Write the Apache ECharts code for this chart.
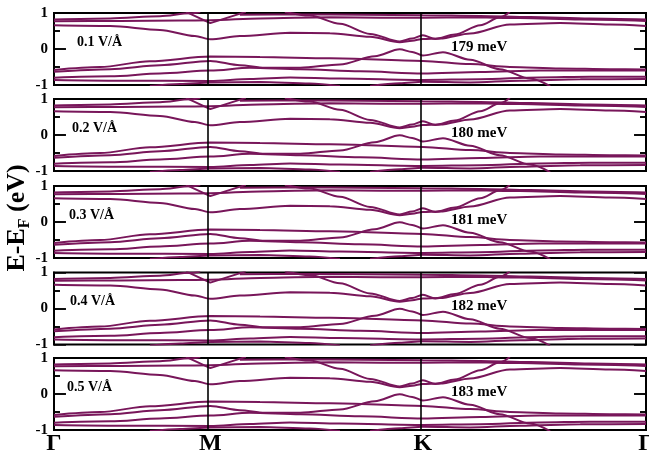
<!DOCTYPE html>
<html><head><meta charset="utf-8">
<script src="https://cdn.jsdelivr.net/npm/echarts@6/dist/echarts.min.js"></script>
<style>html,body{margin:0;padding:0;background:#fff}#c{width:649px;height:450px}</style>
</head><body><div id="c"></div>
<script>
// k-path positions (normalised) and labels
const kTicks = [0, 0.264, 0.623, 1];
const kLabels = ['Γ', 'M', 'K', 'Γ'];
const yMajorTicks = [0];
const yMinorTicks = [-0.5, 0.5];
const fieldLabels = ['0.1 V/Å', '0.2 V/Å', '0.3 V/Å', '0.4 V/Å', '0.5 V/Å'];
const gapLabels = ['179 meV', '180 meV', '181 meV', '182 meV', '183 meV'];

// conduction bands [k, E-EF (eV)]
const cbA = [[0,0.82],[0.095,0.85],[0.179,0.91],[0.230,0.99],[0.247,1.03]];
const cbV = [[0.223,1.03],[0.264,0.72],[0.324,1.03]];
const cbB = [[0,0.77],[0.111,0.78],[0.213,0.79],[0.264,0.80],[0.348,0.85],[0.466,0.88],[0.551,0.87],[0.623,0.87],[0.703,0.88],[0.787,0.86],[0.889,0.82],[1,0.78]];
const cbTop = [[0.314,0.95],[0.416,0.96],[0.517,0.95],[0.623,0.94],[0.720,0.92],[0.804,0.89],[0.905,0.85],[1,0.82]];
const cbC = [[0,0.66],[0.095,0.64],[0.179,0.53],[0.238,0.36],[0.264,0.27],[0.314,0.36],[0.399,0.45],[0.466,0.44],[0.534,0.34],[0.584,0.19],[0.605,0.23],[0.623,0.28],[0.652,0.29],[0.703,0.43],[0.770,0.68],[0.855,0.72],[0.939,0.68],[1,0.64]];
const cbD = [[0.390,1.03],[0.432,0.93],[0.483,0.70],[0.534,0.42],[0.584,0.21],[0.605,0.29],[0.623,0.38],[0.644,0.28],[0.677,0.40],[0.720,0.66],[0.753,0.88],[0.770,1.03]];
// valence bands
const vbA = [[0,-0.58],[0.078,-0.50],[0.162,-0.34],[0.264,-0.21],[0.348,-0.22],[0.466,-0.26],[0.623,-0.33],[0.703,-0.42],[0.770,-0.50],[0.855,-0.54],[0.939,-0.56],[1,-0.57]];
const vbB = [[0,-0.63],[0.095,-0.56],[0.179,-0.45],[0.264,-0.33],[0.314,-0.45],[0.356,-0.52],[0.416,-0.52],[0.483,-0.43],[0.542,-0.20],[0.584,-0.01],[0.605,-0.08],[0.623,-0.18],[0.657,-0.09],[0.703,-0.30],[0.753,-0.56],[0.804,-0.82],[0.838,-1.03]];
const vbC = [[0,-0.80],[0.095,-0.76],[0.179,-0.68],[0.264,-0.60],[0.331,-0.52],[0.416,-0.56],[0.517,-0.62],[0.623,-0.68],[0.720,-0.64],[0.820,-0.60],[1,-0.60]];
const vbD = [[0,-0.86],[0.111,-0.88],[0.264,-0.89],[0.331,-0.83],[0.399,-0.79],[0.483,-0.82],[0.623,-0.86],[0.720,-0.84],[0.820,-0.79],[0.905,-0.77],[1,-0.77]];
const vbE = [[0.162,-1.03],[0.213,-0.97],[0.264,-0.93],[0.348,-0.92],[0.432,-0.96],[0.483,-1.03]];
const vbF = [[0.534,-1.03],[0.584,-0.95],[0.623,-0.91],[0.703,-0.93],[0.787,-0.88],[0.889,-0.84],[1,-0.83]];

const bands = [cbA, cbB, cbTop, cbC, cbD, vbA, vbB, vbC, vbD, vbE, vbF];

const FONT = '"Liberation Serif", "DejaVu Serif", serif';
const COLOR = '#78165a';
const tops = [13, 99, 186, 272.5, 358];
const fieldX = [77, 72, 69, 70, 67];
const TICK_MAJOR = 0.02, TICK_MINOR = 0.01;   // tick lengths along the k axis

// tick segments drawn inside the frame on both sides
const tickSegs = [];
[[yMajorTicks, TICK_MAJOR], [yMinorTicks, TICK_MINOR]].forEach(([vals, len]) => {
  vals.forEach(v => {
    tickSegs.push([{coord: [0, v]}, {coord: [len, v]}]);
    tickSegs.push([{coord: [1 - len, v]}, {coord: [1, v]}]);
  });
});

const grid = [], xAxis = [], yAxis = [], series = [], graphic = [];
tops.forEach((t, i) => {
  grid.push({left: 54, top: t, width: 592, height: 72, show: true, borderColor: '#000', borderWidth: 2,
    containLabel: false, outerBoundsMode: 'none'});
  xAxis.push({
    gridIndex: i, type: 'value', min: 0, max: 1,
    axisLine: {show: false, onZero: false}, axisTick: {show: false}, splitLine: {show: false},
    axisLabel: i === 4 ? {
      show: true, customValues: kTicks, margin: 2, hideOverlap: false,
      formatter: v => kLabels[kTicks.indexOf(v)],
      fontSize: 24, fontWeight: 'bold', fontFamily: FONT, color: '#000'
    } : {show: false}
  });
  ['left', 'right'].forEach(pos => {
    yAxis.push({
      gridIndex: i, type: 'value', min: -1, max: 1, interval: 1, position: pos,
      axisLine: {show: true, onZero: false, lineStyle: {color: '#000', width: 2}},
      splitLine: {show: false},
      axisTick: {show: true, inside: true, length: 12, lineStyle: {color: '#000', width: 1.5}},
      minorTick: {show: true, splitNumber: 2, length: 6, lineStyle: {color: '#000', width: 1.5}},
      axisLabel: pos === 'left'
        ? {show: true, margin: 6, fontSize: 15, fontWeight: 'bold', fontFamily: FONT, color: '#000'}
        : {show: false}
    });
  });

  bands.forEach(b => {
    series.push({type: 'line', xAxisIndex: i, yAxisIndex: 2 * i, data: b, showSymbol: false,
      smooth: 0.3, smoothMonotone: 'x', clip: true, silent: true,
      lineStyle: {color: COLOR, width: 2}});
  });
  series.push({type: 'line', xAxisIndex: i, yAxisIndex: 2 * i, data: cbV, showSymbol: false,
    smooth: false, clip: true, silent: true, lineStyle: {color: COLOR, width: 2},
    markLine: {silent: true, symbol: ['none', 'none'], label: {show: false},
      lineStyle: {color: '#000', width: 1.6, type: 'solid'},
      data: [{xAxis: kTicks[1]}, {xAxis: kTicks[2]}].concat(tickSegs)}});

  graphic.push({type: 'text', x: fieldX[i], y: t + 29, style: {text: fieldLabels[i], fontSize: 14, fontWeight: 'bold', fontFamily: FONT, fill: '#000', verticalAlign: 'middle'}});
  graphic.push({type: 'text', x: 451, y: t + 34, style: {text: gapLabels[i], fontSize: 15, fontWeight: 'bold', fontFamily: FONT, fill: '#000', verticalAlign: 'middle'}});
});

graphic.push({type: 'text', x: 17, y: 218, rotation: Math.PI / 2,
  style: {text: '{m|E-E}{s|F}{m| (eV)}', align: 'center', verticalAlign: 'middle',
    rich: {
      m: {fontSize: 26, fontWeight: 'bold', fontFamily: FONT, fill: '#000', verticalAlign: 'top', lineHeight: 26},
      s: {fontSize: 16, fontWeight: 'bold', fontFamily: FONT, fill: '#000', verticalAlign: 'top', padding: [13, 0, 0, 0], lineHeight: 16}
    }}});

const chart = echarts.init(document.getElementById('c'), null, {renderer: 'canvas'});
chart.setOption({animation: false, grid, xAxis, yAxis, series, graphic});
</script></body></html>
